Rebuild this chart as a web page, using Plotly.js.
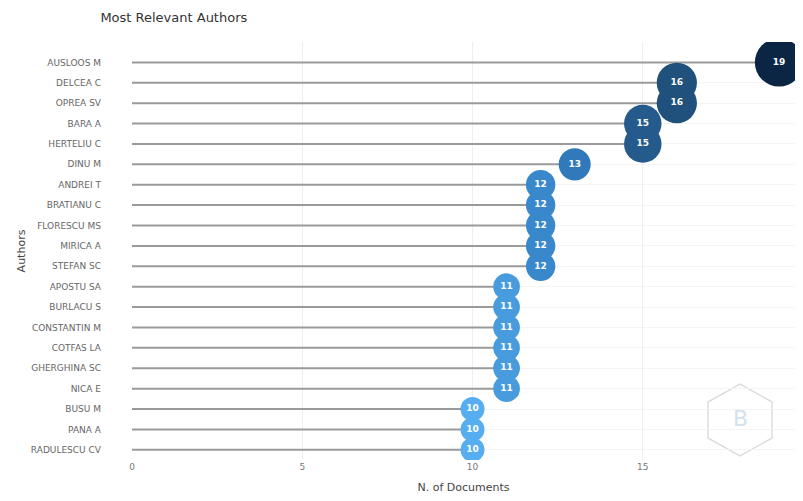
<!DOCTYPE html>
<html>
<head>
<meta charset="utf-8">
<script src="https://cdn.plot.ly/plotly-3.0.1.min.js"></script>
<style>html,body{margin:0;padding:0;background:#fff;}#chart{width:803px;height:501px;}</style>
</head>
<body>
<div id="chart"></div>
<script>
const authors = ["AUSLOOS M","DELCEA C","OPREA SV","BARA A","HERTELIU C","DINU M","ANDREI T","BRATIANU C","FLORESCU MS","MIRICA A","STEFAN SC","APOSTU SA","BURLACU S","CONSTANTIN M","COTFAS LA","GHERGHINA SC","NICA E","BUSU M","PANA A","RADULESCU CV"];
const documents = [19,16,16,15,15,13,12,12,12,12,12,11,11,11,11,11,11,10,10,10];

const lx = [], ly = [];
authors.forEach((a, i) => { lx.push(0, documents[i], null); ly.push(a, a, null); });

const colorscale = [[0, "#56aef0"], [0.1, "#4a9ee0"], [0.2, "#3b8bd0"], [0.35, "#2f78b8"], [0.55, "#245a8d"], [0.7, "#1f4e79"], [1, "#0b2545"]];

const traces = [
  {type: "scatter", mode: "lines", x: lx, y: ly, line: {color: "#9a9a9a", width: 2}, hoverinfo: "skip", showlegend: false},
  {type: "scatter", mode: "markers+text", x: documents, y: authors,
   text: documents.map(String), textposition: "middle center",
   textfont: {color: "#ffffff", size: 9, family: "DejaVu Sans", weight: "bold"},
   marker: {size: documents.map(v => 24 + (v - 10) * 2.7), opacity: 1, color: documents, cmin: 10, cmax: 19, colorscale: colorscale, line: {width: 0}},
   showlegend: false}
];

// faint watermark hexagon (paper coords of plot area)
function px2paper(x, y) { return [(x - 132) / 663, (460 - y) / 418]; }
const hexPts = [[740,384],[772,402],[772,438],[740,456],[708,438],[708,402]].map(p => px2paper(p[0], p[1]));
const hexPath = "M" + hexPts.map(p => p[0].toFixed(4) + "," + p[1].toFixed(4)).join(" L") + " Z";

const layout = {
  width: 803, height: 501,
  margin: {l: 132, r: 8, t: 42, b: 41},
  paper_bgcolor: "#ffffff", plot_bgcolor: "#ffffff",
  font: {family: "DejaVu Sans", color: "#555555", size: 9},
  title: {text: "Most Relevant Authors", x: 0.125, xanchor: "left", y: 0.965, yanchor: "middle", font: {size: 13, color: "#333333", family: "DejaVu Sans"}},
  xaxis: {range: [0, 19.47], tickvals: [0, 5, 10, 15], showgrid: true, gridcolor: "#eeeeee", zeroline: false, showline: false, ticks: "",
          tickfont: {size: 9, color: "#777777"},
          title: {text: "N. of Documents", font: {size: 11, color: "#444444"}, standoff: 12}},
  yaxis: {categoryorder: "array", categoryarray: authors, range: [19.5, -1], autorange: false, showgrid: true, gridcolor: "#f4f4f4", zeroline: false, showline: false, ticks: "",
          tickfont: {size: 9, color: "#666666"}, ticklabelstandoff: 30,
          title: {text: "Authors", font: {size: 11, color: "#444444"}, standoff: 2}},
  shapes: [{type: "path", xref: "paper", yref: "paper", path: hexPath, line: {color: "#dddddd", width: 1.5}, fillcolor: "rgba(0,0,0,0)", layer: "below"}],
  annotations: [{xref: "paper", yref: "paper", x: px2paper(740, 418)[0], y: px2paper(740, 418)[1], xanchor: "center", yanchor: "middle", text: "B", showarrow: false,
                 font: {size: 22, color: "#d3e2ee", family: "DejaVu Sans"}}]
};

Plotly.newPlot("chart", traces, layout, {displayModeBar: false, staticPlot: true});
</script>
</body>
</html>
